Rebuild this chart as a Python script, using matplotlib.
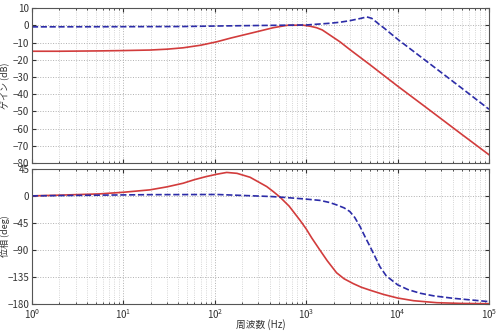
import matplotlib
matplotlib.use("Agg")
import matplotlib.pyplot as plt
from matplotlib.ticker import LogLocator, NullFormatter

plt.rcParams['font.family'] = ['Noto Sans CJK JP', 'DejaVu Sans']

# gain data (Hz, dB)
f_gain_red = [1, 2, 5.5, 10, 19.5, 30, 45, 70, 105, 150, 243, 436, 617, 920,
              1100, 1300, 1500, 1820, 2340, 3000, 5000, 10000, 20000, 50000,
              100000]
gain_red = [-15.0, -15.0, -14.8, -14.6, -14.3, -13.8, -13.0, -11.5, -9.5,
            -7.3, -4.6, -1.3, 0.1, 0.2, -0.4, -1.3, -2.6, -5.6, -9.5, -14.0,
            -22.9, -35.3, -47.3, -63.3, -75.3]

f_gain_blue = [1, 10, 45, 105, 300, 1000, 1820, 2340, 3000, 4000, 4600, 5200,
               5800, 6400, 7000, 10000, 20000, 50000, 100000]
gain_blue = [-0.8, -0.7, -0.6, -0.3, 0.0, 0.3, 1.3, 1.9, 2.8, 4.2, 5.0, 4.2,
             2.2, 0.3, -1.2, -8.0, -20.2, -36.4, -48.8]

# phase data (Hz, deg)
f_phase_red = [1, 2, 5.5, 10, 19.5, 30, 45, 60, 80, 105, 135, 175, 243, 370,
               436, 518, 650, 850, 1000, 1150, 1410, 1700, 2150, 2600, 3270,
               4000, 5000, 7000, 10000, 15000, 27000, 50000, 100000]
phase_red = [0, 1.2, 3.3, 6, 10, 15, 21, 27, 32, 36, 39, 37.5, 31, 15.5, 7.2,
             -2.2, -17, -40, -55, -70, -90, -108, -128, -138, -146, -152,
             -157, -164, -170, -174.5, -177.8, -179, -179.5]

f_phase_blue = [1, 5.5, 19.5, 105, 400, 518, 930, 1410, 1800, 2150, 2600,
                3000, 3400, 3880, 4400, 5000, 5700, 6400, 7500, 10000, 13000,
                17600, 25000, 40700, 100000]
phase_blue = [0, 1.2, 2.0, 2.3, -1, -2, -5, -7.5, -11, -15, -20, -26, -36,
              -51, -68, -84.5, -102, -117.8, -133, -148, -156, -162, -166.5,
              -170.5, -176]

gain_ticks = list(range(10, -81, -10))
phase_ticks = [45, 0, -45, -90, -135, -180]

red = "#d23c3c"
blue = "#2c2ca8"

fig = plt.figure(figsize=(4.99, 3.33), dpi=100)
ax1 = fig.add_axes([0.064, 0.511, 0.916, 0.464])
ax2 = fig.add_axes([0.064, 0.087, 0.916, 0.406])

ax1.semilogx(f_gain_red, gain_red, color=red, lw=1.2)
ax1.semilogx(f_gain_blue, gain_blue, color=blue, lw=1.2, ls="--")
ax2.semilogx(f_phase_red, phase_red, color=red, lw=1.2)
ax2.semilogx(f_phase_blue, phase_blue, color=blue, lw=1.2, ls="--")

ax1.set_ylim(-80, 10)
ax1.set_yticks(gain_ticks)
ax2.set_ylim(-180, 45)
ax2.set_yticks(phase_ticks)

for ax in (ax1, ax2):
    ax.set_xlim(1, 1e5)
    ax.xaxis.set_major_locator(LogLocator(base=10, numticks=10))
    ax.xaxis.set_minor_locator(LogLocator(base=10, subs=range(2, 10), numticks=100))
    ax.xaxis.set_minor_formatter(NullFormatter())
    ax.grid(True, which="major", ls=":", color="#b0b0b0", lw=0.7)
    ax.grid(True, which="minor", axis="x", ls=":", color="#c8c8c8", lw=0.6)
    ax.tick_params(which="both", direction="in", top=True, right=True,
                   labelsize=7, colors="#333333", length=3, pad=2)
    ax.tick_params(which="minor", length=1.5)
    for s in ax.spines.values():
        s.set_color("#555555")
        s.set_linewidth(0.8)

ax1.tick_params(labelbottom=False)
ax1.set_ylabel("ゲイン (dB)", fontsize=6.5, color="#333333")
ax2.set_ylabel("位相 (deg)", fontsize=6.5, color="#333333")
ax2.set_xlabel("周波数 (Hz)", fontsize=7, color="#333333")
ax1.yaxis.set_label_coords(-0.047, 0.5)
ax2.yaxis.set_label_coords(-0.047, 0.5)
ax2.xaxis.set_label_coords(0.5, -0.11)

fig.savefig("out.png", dpi=100)
